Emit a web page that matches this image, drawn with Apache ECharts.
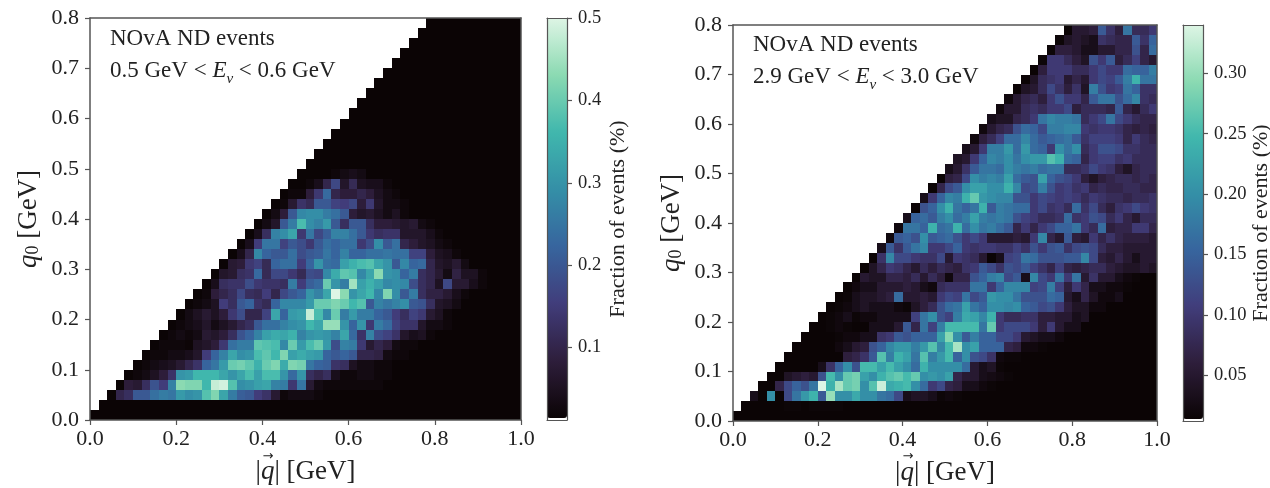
<!DOCTYPE html>
<html><head><meta charset="utf-8">
<style>html,body{margin:0;padding:0;background:#fff}#c{width:1270px;height:488px}</style>
<script src="https://cdn.jsdelivr.net/npm/echarts@6/dist/echarts.min.js"></script>
</head><body><div id="c"></div>
<script>
// Each row lists cells from column = row index (the kinematic edge |q| = q0) onward;
// cells after the listed ones sit at the colour floor.
const leftFloor = 0.012, leftMax = 0.5;
const rightFloor = 0.012, rightMax = 0.34;
const leftTicks = [0.1, 0.2, 0.3, 0.4, 0.5];
const rightTicks = [0.05, 0.10, 0.15, 0.20, 0.25, 0.30];
const xTickStep = 0.2, yTickStep = 0.1;
const leftRows = [
[],
[],
[.012,.10,.12,.2,.2,.24,.26,.25,.31,.29,.3,.38,.42,.33,.26,.21,.2,.15,.13,.07,.02,.03,.03,.03,.02],
[.012,.08,.07,.12,.19,.15,.27,.43,.42,.42,.36,.48,.49,.38,.29,.3,.32,.33,.27,.26,.14,.25,.07,.03,.02,.02,.02,.02,.02,.02,.02],
[.012,.02,.03,.05,.08,.13,.3,.31,.36,.36,.36,.33,.3,.33,.37,.32,.37,.37,.3,.23,.3,.12,.1,.12,.04,.02,.02,.03,.03,.02,.02],
[.012,.02,.03,.04,.05,.07,.1,.13,.22,.25,.31,.4,.41,.39,.35,.4,.42,.34,.42,.41,.25,.22,.21,.13,.12,.05,.03,.03,.02,.02],
[.012,.02,.02,.03,.03,.04,.06,.15,.22,.27,.33,.29,.3,.37,.39,.36,.42,.32,.34,.32,.31,.22,.2,.22,.2,.1,.1,.09,.03,.02,.02],
[.012,.02,.02,.02,.015,.05,.06,.08,.14,.24,.26,.26,.39,.38,.37,.28,.4,.31,.37,.4,.31,.18,.27,.26,.14,.07,.1,.08,.03,.02,.02],
[.012,.02,.03,.02,.03,.07,.06,.08,.12,.19,.22,.27,.32,.34,.33,.35,.27,.3,.31,.3,.27,.33,.23,.13,.27,.18,.16,.13,.06,.04,.05,.02],
[.012,.02,.03,.04,.06,.03,.05,.07,.1,.12,.2,.24,.24,.27,.29,.3,.36,.33,.44,.44,.3,.22,.3,.14,.26,.23,.16,.13,.13,.06,.03,.03,.02],
[.012,.03,.05,.07,.05,.08,.14,.18,.1,.1,.16,.33,.22,.31,.32,.48,.37,.28,.4,.26,.31,.26,.26,.22,.2,.15,.12,.16,.14,.07,.05,.02],
[.012,.02,.03,.05,.15,.12,.2,.22,.13,.11,.22,.28,.28,.28,.31,.4,.4,.42,.4,.36,.38,.2,.27,.25,.27,.29,.2,.19,.12,.06,.05,.03],
[.012,.02,.08,.1,.12,.17,.12,.11,.15,.1,.17,.2,.22,.3,.27,.33,.5,.43,.3,.33,.36,.28,.42,.29,.2,.26,.12,.09,.09,.07,.04,.02],
[.012,.04,.12,.13,.13,.18,.14,.13,.13,.12,.26,.15,.21,.23,.4,.3,.26,.45,.32,.35,.32,.28,.29,.28,.18,.12,.1,.05,.17,.07,.07,.04,.02],
[.012,.06,.07,.12,.13,.23,.11,.17,.17,.14,.11,.18,.17,.28,.34,.39,.38,.28,.33,.43,.3,.29,.22,.26,.12,.1,.07,.03,.09,.05,.05,.02],
[.012,.07,.08,.14,.16,.11,.22,.24,.24,.15,.22,.3,.24,.23,.32,.35,.37,.38,.33,.3,.2,.28,.22,.23,.1,.06,.05,.07,.03],
[.012,.04,.1,.28,.22,.2,.2,.24,.18,.2,.21,.25,.22,.27,.22,.22,.24,.24,.25,.24,.24,.16,.16,.08,.05,.04,.02],
[.012,.04,.15,.25,.25,.16,.2,.18,.14,.2,.24,.22,.24,.24,.14,.18,.29,.2,.24,.1,.08,.06,.05,.03,.02],
[.012,.04,.12,.27,.29,.33,.14,.25,.17,.21,.27,.27,.24,.2,.14,.12,.13,.13,.06,.06,.06,.04,.02],
[.012,.03,.06,.2,.26,.37,.29,.27,.31,.2,.12,.2,.2,.12,.08,.08,.07,.06,.07,.03,.02],
[.012,.03,.08,.2,.28,.29,.29,.26,.24,.2,.08,.06,.07,.05,.03,.05,.02],
[.012,.02,.07,.13,.11,.2,.2,.16,.15,.17,.08,.14,.06,.03,.03,.02],
[.012,.02,.02,.08,.14,.23,.1,.08,.08,.1,.08,.05,.03,.02],
[.012,.012,.02,.04,.1,.17,.06,.11,.05,.04,.04,.02],
[.012,.012,.012,.012,.02,.03,.04,.03],
[],[],[],[],[],[],[],[],[],[],[],[],[],[],[]
];
const rightRows = [
[],
[.012,.012,.012,.012,.012,.015,.015,.012,.015,.015,.015,.015],
[.03,.012,.2,.012,.12,.17,.21,.24,.14,.3,.2,.2,.23,.2,.2,.17,.16,.12,.03,.04,.04,.03,.015,.02,.015],
[.012,.012,.07,.12,.15,.13,.17,.34,.24,.31,.27,.28,.2,.26,.33,.23,.24,.25,.2,.16,.1,.12,.07,.06,.03,.03,.02,.015],
[.012,.012,.04,.05,.06,.05,.13,.25,.2,.27,.28,.22,.2,.24,.26,.27,.25,.27,.2,.21,.2,.22,.07,.05,.05,.03,.025,.02,.015],
[.012,.012,.012,.012,.012,.03,.09,.15,.2,.13,.25,.25,.22,.25,.22,.2,.16,.24,.2,.2,.2,.2,.16,.05,.03,.04,.015],
[.012,.012,.012,.012,.012,.012,.012,.06,.07,.09,.14,.26,.18,.24,.22,.17,.26,.18,.21,.25,.15,.2,.13,.12,.09,.02,.015,.015],
[.012,.012,.012,.012,.012,.02,.03,.05,.06,.13,.15,.19,.21,.21,.18,.21,.26,.19,.25,.31,.2,.22,.15,.15,.15,.07,.06,.02,.02,.015],
[.012,.012,.012,.012,.015,.02,.02,.03,.03,.09,.1,.14,.13,.15,.15,.15,.22,.29,.2,.14,.18,.15,.15,.12,.12,.1,.05,.04,.03,.03,.02],
[.012,.012,.015,.02,.015,.012,.012,.03,.03,.03,.05,.14,.07,.17,.11,.18,.25,.25,.25,.25,.17,.27,.1,.12,.12,.12,.1,.06,.1,.05,.03,.03],
[.012,.015,.02,.03,.015,.02,.02,.03,.03,.03,.03,.11,.17,.2,.13,.11,.18,.23,.22,.19,.24,.1,.08,.08,.09,.09,.06,.06,.05,.05,.03,.04],
[.012,.015,.02,.03,.04,.03,.03,.03,.02,.015,.04,.06,.08,.13,.16,.17,.22,.17,.15,.2,.2,.19,.2,.15,.14,.12,.13,.1,.06,.04,.04,.02,.02],
[.012,.015,.03,.04,.04,.05,.06,.16,.05,.05,.06,.05,.1,.12,.11,.17,.12,.14,.21,.2,.2,.17,.13,.13,.13,.16,.15,.05,.03,.07,.04,.02,.02,.03],
[.012,.02,.03,.03,.05,.05,.05,.06,.05,.03,.02,.08,.09,.09,.09,.17,.17,.1,.15,.19,.19,.19,.11,.12,.18,.11,.06,.1,.07,.03,.03,.02,.02,.015],
[.012,.05,.04,.04,.07,.07,.06,.08,.05,.08,.06,.02,.07,.07,.13,.15,.18,.19,.12,.14,.03,.19,.12,.1,.17,.1,.17,.05,.09,.05,.05,.03,.02,.015],
[.012,.04,.07,.1,.09,.07,.05,.08,.06,.08,.07,.06,.09,.1,.14,.12,.09,.13,.12,.14,.11,.09,.07,.11,.07,.06,.07,.08,.08,.06,.05,.04,.04,.05,.04],
[.012,.09,.19,.12,.12,.1,.09,.09,.12,.05,.1,.09,.08,.05,.012,.03,.11,.12,.17,.16,.13,.13,.13,.14,.14,.19,.12,.06,.05,.07,.05,.03,.05,.05],
[.03,.14,.09,.14,.17,.19,.1,.1,.12,.15,.1,.09,.1,.1,.09,.09,.11,.09,.13,.1,.13,.14,.09,.12,.13,.12,.08,.06,.06,.05,.05,.05,.05],
[.02,.14,.15,.13,.2,.14,.15,.16,.13,.1,.12,.1,.05,.05,.05,.06,.05,.1,.19,.07,.05,.14,.06,.05,.1,.07,.09,.07,.06,.06,.06,.05],
[.02,.17,.17,.15,.24,.16,.17,.24,.16,.2,.17,.18,.16,.14,.07,.1,.07,.1,.12,.15,.15,.17,.1,.08,.16,.06,.07,.07,.1,.1,.07],
[.03,.15,.16,.14,.18,.2,.16,.18,.22,.18,.17,.18,.17,.13,.11,.1,.08,.08,.09,.16,.09,.1,.13,.12,.08,.1,.07,.05,.08,.08],
[.012,.13,.15,.2,.24,.17,.15,.17,.24,.14,.18,.17,.16,.16,.1,.12,.09,.1,.08,.16,.09,.12,.08,.06,.09,.1,.12,.1,.09],
[.03,.1,.15,.19,.18,.24,.27,.21,.2,.19,.19,.13,.13,.1,.12,.11,.1,.11,.1,.08,.1,.09,.08,.08,.07,.08,.08,.09],
[.012,.07,.12,.14,.2,.22,.22,.2,.2,.24,.19,.12,.13,.18,.13,.1,.11,.09,.1,.07,.08,.07,.07,.08,.08,.07,.07],
[.012,.06,.07,.12,.2,.18,.19,.18,.22,.16,.14,.13,.22,.15,.13,.12,.1,.06,.04,.06,.07,.08,.08,.07,.08,.07],
[.03,.05,.09,.14,.17,.17,.16,.2,.18,.17,.18,.16,.17,.17,.08,.08,.09,.12,.1,.09,.06,.04,.07,.08,.08],
[.04,.05,.1,.15,.19,.18,.2,.17,.2,.21,.21,.26,.24,.16,.15,.07,.1,.11,.11,.09,.1,.08,.08,.08],
[.03,.05,.1,.18,.18,.21,.16,.21,.16,.15,.1,.2,.17,.2,.08,.1,.13,.13,.12,.09,.09,.08,.08],
[.02,.06,.08,.11,.16,.16,.19,.16,.14,.15,.16,.17,.14,.09,.11,.11,.11,.1,.07,.1,.08,.07],
[.02,.05,.07,.08,.13,.16,.15,.12,.18,.18,.19,.19,.1,.09,.1,.1,.09,.07,.06,.07,.06],
[.03,.04,.04,.07,.08,.1,.17,.19,.18,.18,.17,.08,.1,.12,.17,.12,.1,.08,.07,.07],
[.02,.05,.05,.08,.09,.08,.1,.1,.12,.06,.08,.08,.08,.07,.14,.07,.05,.08,.1],
[.02,.05,.07,.08,.06,.1,.13,.1,.1,.07,.14,.17,.17,.13,.16,.19,.09,.08],
[.012,.04,.05,.08,.12,.09,.06,.09,.04,.18,.13,.1,.11,.17,.15,.09,.09],
[.012,.04,.08,.09,.1,.05,.07,.05,.1,.12,.11,.14,.18,.24,.17,.17],
[.012,.06,.1,.1,.1,.08,.08,.1,.12,.1,.1,.16,.15,.15,.18],
[.015,.1,.1,.08,.06,.04,.13,.1,.14,.06,.08,.11,.07,.05],
[.015,.06,.06,.05,.03,.03,.05,.05,.07,.07,.13,.07,.16],
[.015,.04,.05,.04,.03,.09,.08,.07,.07,.14,.09,.15],
[.012,.05,.05,.06,.14,.09,.06,.17,.08,.08,.1]
];
const makoStops = ['#0B0405','#2E1E3B','#413D7B','#37659E','#348FA7','#40B7AD','#8BDAB2','#DEF5E5'];
const NX = 50, NY = 40;
const xBins = Array.from({length: NX}, (_, i) => String(i));
const yBins = Array.from({length: NY}, (_, i) => String(i));

function cells(rows, floor) {
  const out = [];
  rows.forEach((row, r) => {
    for (let c = r; c < NX; c++) {
      const v = row[c - r];
      out.push([c, r, v === undefined ? floor : v]);
    }
  });
  return out;
}
const snap = v => Math.round(Math.round(v * 100) / 100);
function renderCell(params, api) {
  const p = api.coord([api.value(0), api.value(1)]);
  const s = api.size([1, 1]);
  const x0 = snap(p[0] - s[0] / 2), x1 = snap(p[0] + s[0] / 2);
  const y0 = snap(p[1] - s[1] / 2), y1 = snap(p[1] + s[1] / 2);
  return {type:'rect', shape:{x:x0, y:y0, width:x1 - x0, height:y1 - y0}, style:{fill:api.visual('color')}};
}
const serif = '"Liberation Serif","DejaVu Serif",serif';
const ink = '#222', line = '#555';
const panels = [
  {g:{left:90,top:18,width:431,height:402,outerBoundsMode:'none'}, bar:{left:547,top:18,width:20,height:402,outerBoundsMode:'none'}, rows:leftRows, floor:leftFloor, max:leftMax, ticks:leftTicks, dec:1,
   band:['0.5','0.6'], tx:110, ty:23, nameGap:40, arrowX:268},
  {g:{left:733,top:25,width:424,height:396,outerBoundsMode:'none'}, bar:{left:1183,top:25,width:20,height:396,outerBoundsMode:'none'}, rows:rightRows, floor:rightFloor, max:rightMax, ticks:rightTicks, dec:2,
   band:['2.9','3.0'], tx:753, ty:29, nameGap:45, arrowX:908}
];
const lineStyle = {color: line, width: 1.5};
const grid = [], xAxis = [], yAxis = [], series = [], visualMap = [], title = [], graphicEls = [];
const rich = {
  it:{fontFamily:serif,fontStyle:'italic',fontSize:27,color:ink},
  sub:{fontFamily:serif,fontSize:18,color:ink,verticalAlign:'bottom',padding:[8,0,0,0]},
  rm:{fontFamily:serif,fontSize:27,color:ink}
};
panels.forEach((p, i) => {
  const gi = grid.length;
  grid.push(p.g);
  const xc = xAxis.length, yc = yAxis.length;
  xAxis.push({type:'category',gridIndex:gi,data:xBins,show:false});
  yAxis.push({type:'category',gridIndex:gi,data:yBins,show:false});
  xAxis.push({type:'value',gridIndex:gi,position:'bottom',min:0,max:1,interval:xTickStep,z:6,splitLine:{show:false},
    axisLine:{show:true,onZero:false,lineStyle},axisTick:{show:true,length:5,lineStyle:{color:line,width:1.2}},
    axisLabel:{fontFamily:serif,fontSize:22,color:ink,margin:8,formatter:v=>v.toFixed(1)},
    name:'{rm||}{it|q}{rm|| [GeV]}',nameLocation:'middle',nameGap:38,nameTextStyle:{rich}});
  xAxis.push({type:'value',gridIndex:gi,position:'top',min:0,max:1,z:6,splitLine:{show:false},
    axisLine:{show:true,onZero:false,lineStyle},axisTick:{show:false},axisLabel:{show:false}});
  yAxis.push({type:'value',gridIndex:gi,position:'left',min:0,max:0.8,interval:yTickStep,z:6,splitLine:{show:false},
    axisLine:{show:true,onZero:false,lineStyle},axisTick:{show:true,length:5,lineStyle:{color:line,width:1.2}},
    axisLabel:{fontFamily:serif,fontSize:22,color:ink,margin:11,formatter:v=>v.toFixed(1)},
    name:'{it|q}{sub|0}{rm| [GeV]}',nameLocation:'middle',nameGap:48,nameTextStyle:{rich}});
  yAxis.push({type:'value',gridIndex:gi,position:'right',min:0,max:0.8,z:6,splitLine:{show:false},
    axisLine:{show:true,onZero:false,lineStyle},axisTick:{show:false},axisLabel:{show:false}});
  series.push({type:'custom',xAxisIndex:xc,yAxisIndex:yc,data:cells(p.rows,p.floor),renderItem:renderCell,
    encode:{x:0,y:1},clip:false,animation:false,silent:true,progressive:0});
  visualMap.push({type:'continuous',seriesIndex:i,dimension:2,min:p.floor,max:p.max,left:p.bar.left,top:p.bar.top,padding:0,
    itemWidth:p.bar.width,itemHeight:p.bar.height-2,text:null,calculable:false,hoverLink:false,showLabel:false,
    inRange:{color:makoStops},z:3});
  // colour bar frame and ticks
  const bi = grid.length;
  grid.push(p.bar);
  xAxis.push({type:'value',gridIndex:bi,position:'bottom',min:0,max:1,z:6,splitLine:{show:false},
    axisLine:{show:true,onZero:false,lineStyle:{color:line,width:1.2}},axisTick:{show:false},axisLabel:{show:false}});
  xAxis.push({type:'value',gridIndex:bi,position:'top',min:0,max:1,z:6,splitLine:{show:false},
    axisLine:{show:true,onZero:false,lineStyle:{color:line,width:1.2}},axisTick:{show:false},axisLabel:{show:false}});
  yAxis.push({type:'value',gridIndex:bi,position:'right',min:p.floor,max:p.max,z:6,splitLine:{show:false},
    axisLine:{show:true,onZero:false,lineStyle:{color:line,width:1.2}},
    axisTick:{show:true,length:5,customValues:p.ticks,lineStyle:{color:line,width:1.2}},
    axisLabel:{fontFamily:serif,fontSize:18.5,color:ink,margin:11,customValues:p.ticks,formatter:v=>v.toFixed(p.dec)},
    name:'Fraction of events (%)',nameLocation:'middle',nameRotate:90,nameGap:p.nameGap,
    nameTextStyle:{fontFamily:serif,fontSize:22,color:ink}});
  yAxis.push({type:'value',gridIndex:bi,position:'left',min:p.floor,max:p.max,z:6,splitLine:{show:false},
    axisLine:{show:true,onZero:false,lineStyle:{color:line,width:1.2}},axisTick:{show:false},axisLabel:{show:false}});
  title.push({left:p.tx,top:p.ty,padding:0,
    text:'{a|NOvA ND events}\n{a|'+p.band[0]+' GeV < }{e|E}{n|\u03BD}{a| < '+p.band[1]+' GeV}',
    textStyle:{lineHeight:32,fontWeight:'normal',rich:{
      a:{fontFamily:serif,fontSize:23,fontWeight:'normal',color:ink,lineHeight:32},
      e:{fontFamily:serif,fontStyle:'italic',fontWeight:'normal',fontSize:23,color:ink,lineHeight:32},
      n:{fontFamily:serif,fontStyle:'italic',fontWeight:'normal',fontSize:15,color:ink,verticalAlign:'bottom',lineHeight:26}
    }}});
  graphicEls.push({type:'text',x:p.arrowX,y:457,z:10,style:{text:'\u2192',fontFamily:'"DejaVu Sans",sans-serif',fontSize:13,fill:ink,align:'center',verticalAlign:'middle'}});
});
const chart = echarts.init(document.getElementById('c'), null, {renderer:'canvas'});
chart.setOption({animation:false,backgroundColor:'#fff',title,grid,xAxis,yAxis,visualMap,series,graphic:{elements:graphicEls}});
</script></body></html>
